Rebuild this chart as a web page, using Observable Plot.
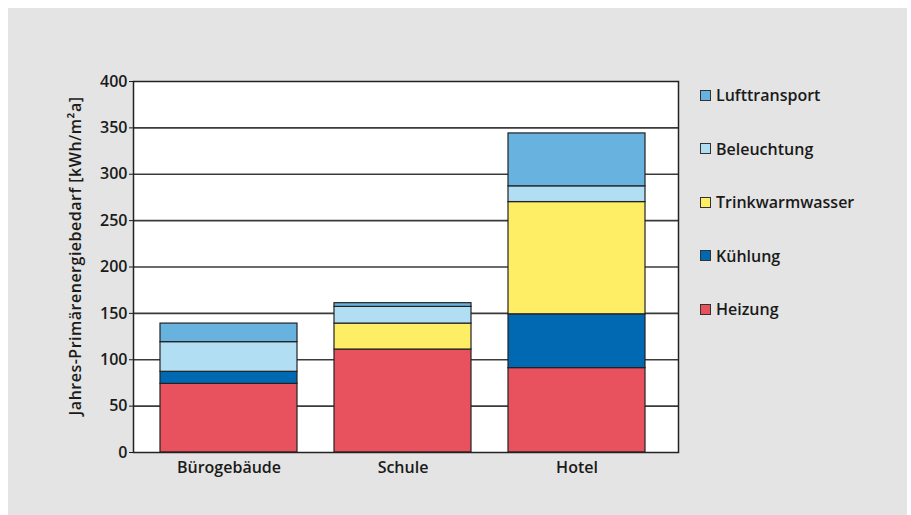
<!DOCTYPE html>
<html>
<head>
<meta charset="utf-8">
<script src="https://cdn.jsdelivr.net/npm/d3@7"></script>
<script src="https://cdn.jsdelivr.net/npm/@observablehq/plot@0.6"></script>
<style>
  body { margin: 0; width: 911px; height: 515px; overflow: hidden; position: relative; background: #ffffff; font-family: "Open Sans", sans-serif; }
  #panel { position: absolute; left: 8px; top: 8px; width: 899px; height: 507px; background: #e3e4e3; }
  #chart { position: absolute; left: 0; top: 0; }
  #chart svg text { font-weight: 600; }
  #chart g.ylabel text { letter-spacing: 0.5px; }
  #legend { position: absolute; left: 700px; top: 87px; display: flex; flex-direction: column; gap: 37.5px; }
  .item { display: flex; align-items: center; height: 16px; font-size: 16px; font-weight: 600; color: #1a1a1a; }
  .swatch { width: 9px; height: 9px; border: 1px solid #333; margin-right: 5px; }
</style>
</head>
<body>
<div id="panel"></div>
<div id="chart"></div>
<div id="legend"></div>
<script>
// Annual primary energy demand by building type, split by end use (kWh/m²a)
const buildings = ["Bürogebäude", "Schule", "Hotel"];
const categories = ["Heizung", "Kühlung", "Trinkwarmwasser", "Beleuchtung", "Lufttransport"];
const colors = ["#e8525f", "#0169b2", "#fdee65", "#b2def4", "#67b2de"];

const heizung         = [74, 111, 91];
const kuehlung        = [13, 0, 58];
const trinkwarmwasser = [0, 28, 121];
const beleuchtung     = [32, 18, 17];
const lufttransport   = [20, 4, 57];

const yTicks = [0, 50, 100, 150, 200, 250, 300, 350, 400];
const yLabel = "Jahres-Primärenergiebedarf [kWh/m²a]";

const series = [heizung, kuehlung, trinkwarmwasser, beleuchtung, lufttransport];
const rows = [];
categories.forEach((cat, ci) => {
  buildings.forEach((b, bi) => {
    const v = series[ci][bi];
    if (v > 0) rows.push({ building: b, category: cat, value: v });
  });
});

const chart = Plot.plot({
  width: 911,
  height: 515,
  marginLeft: 133,
  marginRight: 233,
  marginTop: 81,
  marginBottom: 63,
  style: { background: "transparent", fontFamily: "'Open Sans', sans-serif", fontSize: "16px", color: "#1a1a1a", overflow: "visible" },
  x: { domain: buildings, paddingInner: 0.21, paddingOuter: 0.165, align: 0.45 },
  y: { domain: [0, 400] },
  color: { domain: categories, range: colors },
  marks: [
    Plot.frame({ fill: "white" }),
    Plot.ruleY(yTicks.filter(t => t > 0 && t < 400), { stroke: "#3a3a3a", strokeWidth: 1.7 }),
    Plot.barY(rows, { x: "building", y: "value", fill: "category", order: categories, stroke: "#222", strokeWidth: 1.2 }),
    Plot.frame({ stroke: "#222", strokeWidth: 1.5 }),
    Plot.axisY({ ticks: yTicks, tickSize: 4, tickPadding: 2, fontSize: 16, label: null }),
    Plot.axisX({ tickSize: 0, tickPadding: 9, fontSize: 16, label: null }),
    Plot.text([yLabel], { frameAnchor: "left", textAnchor: "middle", rotate: -90, dx: -58, dy: -11, fontSize: 16, className: "ylabel", fill: "#1a1a1a" })
  ]
});
document.getElementById("chart").appendChild(chart);

// Legend, top to bottom in reverse stacking order
const legend = document.getElementById("legend");
categories.slice().reverse().forEach(cat => {
  const item = document.createElement("div");
  item.className = "item";
  const sw = document.createElement("span");
  sw.className = "swatch";
  sw.style.background = colors[categories.indexOf(cat)];
  const label = document.createElement("span");
  label.textContent = cat;
  item.appendChild(sw);
  item.appendChild(label);
  legend.appendChild(item);
});
</script>
</body>
</html>
